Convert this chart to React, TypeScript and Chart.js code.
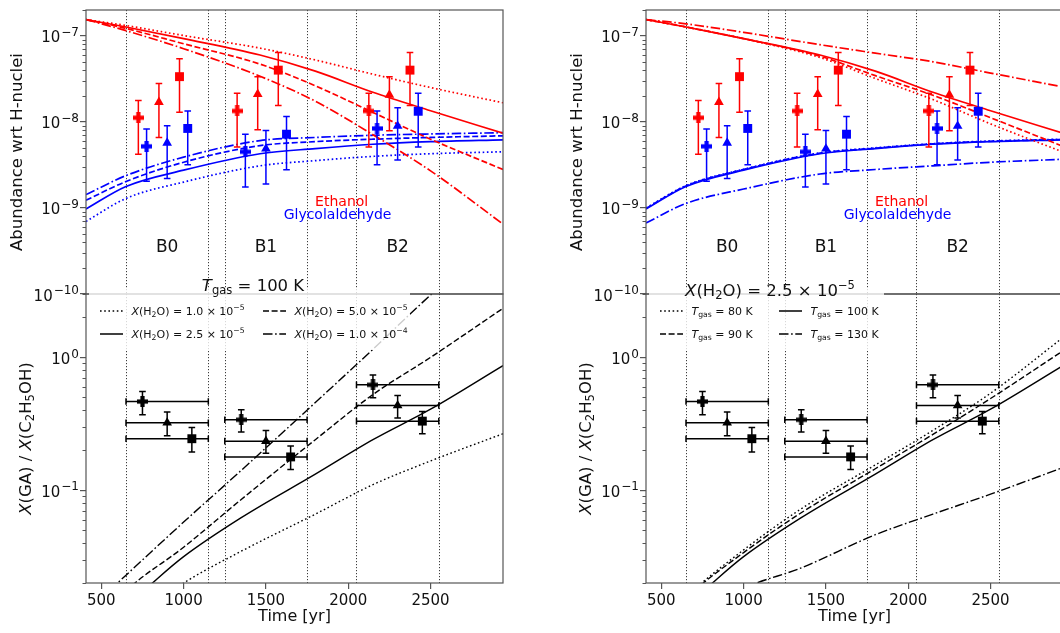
import React, { useEffect, useRef } from 'react';
import { Chart, registerables } from 'chart.js';

Chart.register(...registerables);

const FONT = '"DejaVu Sans", Verdana, sans-serif';

// ---------------- axes ----------------
const timeMin = 407;
const timeMax = 2940;
const timeTicks = [500, 1000, 1500, 2000, 2500];
const abundMin = 1e-10;
const abundMax = 2e-7;
const abundTicks = [1e-10, 1e-9, 1e-8, 1e-7];
const abundMinorTicks = [
  2e-10, 3e-10, 4e-10, 5e-10, 6e-10, 7e-10, 8e-10, 9e-10,
  2e-9, 3e-9, 4e-9, 5e-9, 6e-9, 7e-9, 8e-9, 9e-9,
  2e-8, 3e-8, 4e-8, 5e-8, 6e-8, 7e-8, 8e-8, 9e-8, 2e-7,
];
const ratioMin = 0.02;
const ratioMax = 3;
const ratioTicks = [0.1, 1];
const ratioMinorTicks = [0.02, 0.03, 0.04, 0.05, 0.06, 0.07, 0.08, 0.09, 0.2, 0.3, 0.4, 0.5, 0.6, 0.7, 0.8, 0.9, 2, 3];

const regionBounds = [650, 1150, 1250, 1750, 2050, 2550];
const regionNames = ['B0', 'B1', 'B2'];
const regionNameTimes = [900, 1500, 2300];
const regionNameLevel = 3.5e-10;

// ---------------- model curves (abundances) ----------------
const modelTimes = [407, 650, 1000, 1464, 1800, 2150, 2500, 2940];
// left column: T_gas = 100 K, varying X(H2O)
const etohH2O1e5 = [1.55e-7, 1.32e-7, 1.01e-7, 7.2e-8, 5.25e-8, 3.59e-8, 2.51e-8, 1.67e-8];
const etohH2O2p5e5 = [1.55e-7, 1.27e-7, 9.3e-8, 6.0e-8, 3.89e-8, 2.21e-8, 1.35e-8, 7.4e-9];
const etohH2O5e5 = [1.55e-7, 1.22e-7, 8.1e-8, 4.7e-8, 2.63e-8, 1.29e-8, 6.3e-9, 2.8e-9];
const etohH2O1e4 = [1.55e-7, 1.15e-7, 7.1e-8, 3.4e-8, 1.74e-8, 7.1e-9, 2.7e-9, 6.5e-10];
const gaH2O1e5 = [6.98e-10, 1.29e-9, 2.0e-9, 3.09e-9, 3.55e-9, 3.98e-9, 4.27e-9, 4.5e-9];
const gaH2O2p5e5 = [9.75e-10, 1.78e-9, 2.75e-9, 4.27e-9, 4.9e-9, 5.5e-9, 5.9e-9, 6.2e-9];
const gaH2O5e5 = [1.23e-9, 2.03e-9, 3.4e-9, 5.3e-9, 5.9e-9, 6.3e-9, 6.6e-9, 6.9e-9];
const gaH2O1e4 = [1.43e-9, 2.38e-9, 3.9e-9, 6.07e-9, 6.6e-9, 7.0e-9, 7.25e-9, 7.5e-9];
// right column: X(H2O) = 2.5e-5, varying T_gas
const etohT80 = [1.55e-7, 1.27e-7, 9.3e-8, 5.6e-8, 3.2e-8, 1.82e-8, 9.5e-9, 4.47e-9];
const etohT90 = [1.55e-7, 1.27e-7, 9.3e-8, 5.8e-8, 3.45e-8, 2.04e-8, 1.12e-8, 5.2e-9];
const etohT100 = [1.55e-7, 1.27e-7, 9.3e-8, 6.0e-8, 3.89e-8, 2.21e-8, 1.35e-8, 7.4e-9];
const etohT130 = [1.55e-7, 1.38e-7, 1.1e-7, 7.9e-8, 6.3e-8, 5.0e-8, 3.7e-8, 2.55e-8];
const gaT80 = [1.0e-9, 1.82e-9, 2.82e-9, 4.37e-9, 5.0e-9, 5.6e-9, 6.0e-9, 6.3e-9];
const gaT90 = [9.9e-10, 1.8e-9, 2.8e-9, 4.33e-9, 4.95e-9, 5.55e-9, 5.95e-9, 6.25e-9];
const gaT100 = [9.75e-10, 1.78e-9, 2.75e-9, 4.27e-9, 4.9e-9, 5.5e-9, 5.9e-9, 6.2e-9];
const gaT130 = [6.7e-10, 1.13e-9, 1.66e-9, 2.48e-9, 2.8e-9, 3.09e-9, 3.4e-9, 3.68e-9];

// ---------------- model curves (ratios) ----------------
const ratioTimes = [407, 650, 1000, 1350, 1800, 2150, 2500, 2940];
const ratioH2O1e5 = [0.00447, 0.01, 0.02, 0.0347, 0.066, 0.11, 0.166, 0.266];
const ratioH2O2p5e5 = [0.0093, 0.0138, 0.0316, 0.0621, 0.132, 0.24, 0.407, 0.867];
const ratioH2O5e5 = [0.0079, 0.0174, 0.0372, 0.0851, 0.24, 0.525, 1.0, 2.34];
const ratioH2O1e4 = [0.012, 0.0229, 0.0575, 0.141, 0.457, 1.15, 2.95, 8.9];
const ratioT80 = [0.0079, 0.0158, 0.0355, 0.0724, 0.155, 0.282, 0.537, 1.41];
const ratioT90 = [0.0076, 0.0155, 0.0339, 0.0676, 0.145, 0.263, 0.49, 1.12];
const ratioT100 = [0.0093, 0.0138, 0.0316, 0.0621, 0.132, 0.24, 0.407, 0.867];
const ratioT130 = [0.0063, 0.01, 0.0182, 0.026, 0.0462, 0.066, 0.0933, 0.148];

// ---------------- observations ----------------
const obsMarkers = ['plus', 'triangle', 'square', 'plus', 'triangle', 'square', 'plus', 'triangle', 'square'];
const ethTimes = [725, 850, 975, 1325, 1450, 1575, 2125, 2250, 2375];
const ethObs = [1.12e-8, 1.7e-8, 3.36e-8, 1.34e-8, 2.1e-8, 4.0e-8, 1.34e-8, 2.06e-8, 4.0e-8];
const ethObsLo = [4.2e-9, 6.6e-9, 1.3e-8, 5.1e-9, 8.1e-9, 1.55e-8, 5.1e-9, 7.9e-9, 1.55e-8];
const ethObsHi = [1.77e-8, 2.79e-8, 5.43e-8, 2.15e-8, 3.36e-8, 6.4e-8, 2.15e-8, 3.36e-8, 6.4e-8];
const gaTimes = [775, 900, 1025, 1375, 1500, 1625, 2175, 2300, 2425];
const gaObs = [5.2e-9, 5.7e-9, 8.4e-9, 4.5e-9, 4.87e-9, 7.2e-9, 8.4e-9, 8.97e-9, 1.33e-8];
const gaObsLo = [2.05e-9, 2.2e-9, 3.17e-9, 1.75e-9, 1.9e-9, 2.78e-9, 3.17e-9, 3.6e-9, 5.1e-9];
const gaObsHi = [8.3e-9, 9.05e-9, 1.34e-8, 7.2e-9, 7.95e-9, 1.16e-8, 1.34e-8, 1.46e-8, 2.15e-8];
const ratioObsTimes = [750, 900, 1050, 1350, 1500, 1650, 2150, 2300, 2450];
const ratioObs = [0.465, 0.322, 0.244, 0.339, 0.234, 0.178, 0.621, 0.434, 0.331];
const ratioObsLo = [0.37, 0.257, 0.194, 0.274, 0.19, 0.143, 0.496, 0.349, 0.266];
const ratioObsHi = [0.553, 0.387, 0.297, 0.403, 0.282, 0.215, 0.738, 0.516, 0.392];
const ratioObsStart = [650, 650, 650, 1250, 1250, 1250, 2050, 2050, 2050];
const ratioObsEnd = [1150, 1150, 1150, 1750, 1750, 1750, 2550, 2550, 2550];

// ---------------- styles ----------------
const RED = '#ff0000';
const BLUE = '#0000ff';
const BLACK = '#000000';
const SPINE = '#555555';
const SOLID: number[] = [];
const DOT = [1.6, 2.6];
const DASH = [6, 2.6];
const DASHDOT = [9.5, 2.6, 1.6, 2.6];

type Seg = { t: string; it?: boolean; sub?: boolean; sup?: boolean };

function segFont(s: Seg, size: number) {
  const fs = s.sub || s.sup ? size * 0.7 : size;
  return `${s.it ? 'italic ' : ''}${fs}px ${FONT}`;
}
function richWidth(ctx: CanvasRenderingContext2D, segs: Seg[], size: number) {
  let w = 0;
  for (const s of segs) {
    ctx.font = segFont(s, size);
    w += ctx.measureText(s.t).width;
  }
  return w;
}
function drawRich(ctx: CanvasRenderingContext2D, segs: Seg[], x: number, y: number, size: number, align: string, color: string) {
  const w = richWidth(ctx, segs, size);
  let cx = align === 'center' ? x - w / 2 : x;
  ctx.fillStyle = color;
  ctx.textAlign = 'left';
  ctx.textBaseline = 'alphabetic';
  for (const s of segs) {
    ctx.font = segFont(s, size);
    const dy = s.sub ? size * 0.2 : s.sup ? -size * 0.42 : 0;
    ctx.fillText(s.t, cx, y + dy);
    cx += ctx.measureText(s.t).width;
  }
}

// power-of-ten tick label: "10" plus a raised exponent, right-aligned at x
function drawPowLabel(ctx: CanvasRenderingContext2D, v: number, xRight: number, yTick: number) {
  const e = Math.round(Math.log10(v));
  const exp = (e < 0 ? '−' : '') + String(Math.abs(e));
  ctx.font = `15px ${FONT}`;
  const w1 = ctx.measureText('10').width;
  ctx.font = `12px ${FONT}`;
  const w2 = ctx.measureText(exp).width;
  const x0 = xRight - (w1 + 1 + w2);
  ctx.fillStyle = '#111';
  ctx.textAlign = 'left';
  ctx.textBaseline = 'alphabetic';
  ctx.font = `15px ${FONT}`;
  ctx.fillText('10', x0, yTick + 6.5);
  ctx.font = `12px ${FONT}`;
  ctx.fillText(exp, x0 + w1 + 1, yTick + 0.3);
}

const markerCache: Record<string, HTMLCanvasElement> = {};
function plusMarker(color: string) {
  if (markerCache[color]) return markerCache[color];
  const size = 11;
  const arm = 4.2;
  const c = document.createElement('canvas');
  c.width = size;
  c.height = size;
  const g = c.getContext('2d')!;
  g.fillStyle = color;
  const a = (size - arm) / 2;
  g.fillRect(0, a, size, arm);
  g.fillRect(a, 0, arm, size);
  markerCache[color] = c;
  return c;
}

function lineSeries(times: number[], vals: number[], color: string, dash: number[], width: number) {
  return {
    data: times.map((t, i) => ({ x: t, y: vals[i] })),
    borderColor: color,
    backgroundColor: color,
    borderWidth: width,
    borderDash: dash,
    borderCapStyle: 'butt',
    pointRadius: 0,
    fill: false,
    cubicInterpolationMode: 'monotone',
  };
}

function obsSeries(times: number[], vals: number[], lo: number[], hi: number[], color: string, xlo?: number[], xhi?: number[]) {
  return {
    data: times.map((t, i) => ({ x: t, y: vals[i] })),
    showLine: false,
    pointStyle: obsMarkers.map((m) => (m === 'plus' ? plusMarker(color) : m === 'triangle' ? 'triangle' : 'rect')),
    pointRadius: obsMarkers.map((m) => (m === 'plus' ? 5 : m === 'triangle' ? 5.6 : 6.3)),
    backgroundColor: color,
    borderColor: color,
    borderWidth: 0,
    errLo: lo,
    errHi: hi,
    xLo: xlo,
    xHi: xhi,
    errColor: color,
  };
}

type Entry = { dash: number[]; segs: Seg[]; dx: number; row: number };
type PanelCfg = {
  top: boolean;
  legendBox?: { dx: number; dy: number; w: number; h: number };
  legend?: Entry[];
  title?: { segs: Seg[]; dx: number; dy: number };
  yTitle?: Seg[];
};

function panelPlugin(cfg: PanelCfg) {
  return {
    id: 'panel',
    beforeDatasetsDraw(chart: any) {
      const { ctx, chartArea: ca } = chart;
      const x = chart.scales.x;
      ctx.save();
      ctx.strokeStyle = 'rgba(0,0,0,0.85)';
      ctx.lineWidth = 0.9;
      ctx.setLineDash([1.2, 1.8]);
      for (const b of regionBounds) {
        const px = Math.round(x.getPixelForValue(b)) + 0.5;
        ctx.beginPath();
        ctx.moveTo(px, ca.top);
        ctx.lineTo(px, ca.bottom);
        ctx.stroke();
      }
      ctx.restore();
    },
    beforeDatasetDraw(chart: any, args: any) {
      const ds = chart.data.datasets[args.index];
      if (!ds.errLo) return;
      const { ctx } = chart;
      const xs = chart.scales.x;
      const ys = chart.scales.y;
      const cap = 3.3;
      ctx.save();
      ctx.strokeStyle = ds.errColor;
      ctx.lineWidth = 1.5;
      ctx.setLineDash([]);
      ds.data.forEach((p: any, i: number) => {
        const px = xs.getPixelForValue(p.x);
        const py = ys.getPixelForValue(p.y);
        const yt = ys.getPixelForValue(ds.errHi[i]);
        const yb = ys.getPixelForValue(ds.errLo[i]);
        ctx.beginPath();
        ctx.moveTo(px, yt);
        ctx.lineTo(px, yb);
        ctx.moveTo(px - cap, yt);
        ctx.lineTo(px + cap, yt);
        ctx.moveTo(px - cap, yb);
        ctx.lineTo(px + cap, yb);
        if (ds.xLo) {
          const xl = xs.getPixelForValue(ds.xLo[i]);
          const xr = xs.getPixelForValue(ds.xHi[i]);
          ctx.moveTo(xl, py);
          ctx.lineTo(xr, py);
          ctx.moveTo(xl, py - cap);
          ctx.lineTo(xl, py + cap);
          ctx.moveTo(xr, py - cap);
          ctx.lineTo(xr, py + cap);
        }
        ctx.stroke();
      });
      ctx.restore();
    },
    afterDatasetsDraw(chart: any) {
      const { ctx, chartArea: ca } = chart;
      const xs = chart.scales.x;
      const ys = chart.scales.y;
      ctx.save();
      // frame
      ctx.setLineDash([]);
      ctx.strokeStyle = SPINE;
      ctx.lineWidth = 1.2;
      ctx.strokeRect(ca.left, ca.top, ca.right - ca.left, ca.bottom - ca.top);
      // minor ticks
      ctx.lineWidth = 1;
      const minors = cfg.top ? abundMinorTicks : ratioMinorTicks;
      for (const v of minors) {
        const py = Math.round(ys.getPixelForValue(v)) + 0.5;
        ctx.beginPath();
        ctx.moveTo(ca.left - 3.5, py);
        ctx.lineTo(ca.left, py);
        ctx.stroke();
      }
      // major tick labels (powers of ten)
      for (const v of cfg.top ? abundTicks : ratioTicks) {
        drawPowLabel(ctx, v, ca.left - 7, ys.getPixelForValue(v));
      }
      if (cfg.top) {
        // region labels
        ctx.fillStyle = '#111';
        ctx.font = `17px ${FONT}`;
        ctx.textAlign = 'center';
        ctx.textBaseline = 'middle';
        regionNames.forEach((n, i) => {
          ctx.fillText(n, xs.getPixelForValue(regionNameTimes[i]), ys.getPixelForValue(regionNameLevel));
        });
        ctx.font = `14px ${FONT}`;
        ctx.fillStyle = RED;
        ctx.fillText('Ethanol', xs.getPixelForValue(1960), ys.getPixelForValue(1.15e-9));
        ctx.fillStyle = BLUE;
        ctx.fillText('Glycolaldehyde', xs.getPixelForValue(1935), ys.getPixelForValue(8.1e-10));
      }
      if (cfg.legendBox) {
        const b = cfg.legendBox;
        ctx.fillStyle = 'rgba(255,255,255,0.8)';
        ctx.beginPath();
        ctx.roundRect(ca.left + b.dx, ca.top + b.dy, b.w, b.h, 3);
        ctx.fill();
      }
      if (cfg.legend) {
        for (const e of cfg.legend) {
          const hx = ca.left + e.dx;
          const ry = ca.top + 17 + e.row * 23;
          ctx.strokeStyle = BLACK;
          ctx.lineWidth = 1.5;
          ctx.setLineDash(e.dash);
          ctx.beginPath();
          ctx.moveTo(hx, ry);
          ctx.lineTo(hx + 23, ry);
          ctx.stroke();
          ctx.setLineDash([]);
          drawRich(ctx, e.segs, hx + 31.5, ry + 4, 11, 'left', '#111');
        }
      }
      if (cfg.title) {
        drawRich(ctx, cfg.title.segs, ca.left + cfg.title.dx, ca.top + cfg.title.dy, 16.5, 'center', '#111');
      }
      if (cfg.yTitle) {
        ctx.translate(25, (ca.top + ca.bottom) / 2);
        ctx.rotate(-Math.PI / 2);
        drawRich(ctx, cfg.yTitle, 0, 6, 16.5, 'center', '#111');
      }
      ctx.restore();
    },
  };
}

function makeChart(canvas: HTMLCanvasElement, datasets: any[], cfg: PanelCfg) {
  const isTop = cfg.top;
  const gridOpts = { drawOnChartArea: false, drawTicks: true, tickLength: 6, color: SPINE, lineWidth: 1.2 };
  return new Chart(canvas, {
    type: 'line',
    data: { datasets },
    options: {
      responsive: false,
      maintainAspectRatio: false,
      animation: false,
      devicePixelRatio: 1,
      events: [],
      layout: { padding: isTop ? { top: 4, right: 27, bottom: 16, left: 0 } : { top: 34, right: 27, bottom: 0, left: 0 } },
      plugins: { legend: { display: false }, tooltip: { enabled: false } },
      scales: {
        x: {
          type: 'linear',
          min: timeMin,
          max: timeMax,
          display: !isTop,
          afterBuildTicks: (s: any) => {
            s.ticks = timeTicks.map((v) => ({ value: v }));
          },
          afterFit: (s: any) => {
            s.height = isTop ? 0 : 50;
          },
          ticks: { font: { family: FONT, size: 15 }, color: '#111', padding: 3, maxRotation: 0, autoSkip: false, callback: (v: any) => String(v) },
          grid: gridOpts,
          border: { display: false },
          title: { display: true, text: 'Time [yr]', font: { family: FONT, size: 16 }, color: '#111', padding: { top: 0, bottom: 6.4 } },
        },
        y: {
          type: 'logarithmic',
          min: isTop ? abundMin : ratioMin,
          max: isTop ? abundMax : ratioMax,
          afterBuildTicks: (s: any) => {
            s.ticks = (isTop ? abundTicks : ratioTicks).map((v) => ({ value: v }));
          },
          afterFit: (s: any) => {
            s.width = 86;
          },
          ticks: { font: { family: FONT, size: 15 }, color: '#111', padding: 1, autoSkip: false, callback: () => '' },
          grid: gridOpts,
          border: { display: false },
          title: isTop
            ? { display: true, text: 'Abundance wrt H-nuclei', font: { family: FONT, size: 16.5 }, color: '#111', padding: { top: 8, bottom: 0 } }
            : { display: false },
        },
      },
    } as any,
    plugins: [panelPlugin(cfg) as any],
  });
}

const xh2o = (mant: string, exp: string): Seg[] => [
  { t: 'X', it: true },
  { t: '(H' },
  { t: '2', sub: true },
  { t: `O) = ${mant} × 10` },
  { t: exp, sup: true },
];
const tgas = (val: string): Seg[] => [{ t: 'T', it: true }, { t: 'gas', sub: true }, { t: ` = ${val} K` }];
const ratioTitle: Seg[] = [
  { t: 'X', it: true },
  { t: '(GA) / ' },
  { t: 'X', it: true },
  { t: '(C' },
  { t: '2', sub: true },
  { t: 'H' },
  { t: '5', sub: true },
  { t: 'OH)' },
];

function buildTopLeft(c: HTMLCanvasElement) {
  const ds = [
    obsSeries(ethTimes, ethObs, ethObsLo, ethObsHi, RED),
    obsSeries(gaTimes, gaObs, gaObsLo, gaObsHi, BLUE),
    lineSeries(modelTimes, etohH2O1e5, RED, DOT, 1.7),
    lineSeries(modelTimes, etohH2O2p5e5, RED, SOLID, 1.7),
    lineSeries(modelTimes, etohH2O5e5, RED, DASH, 1.7),
    lineSeries(modelTimes, etohH2O1e4, RED, DASHDOT, 1.7),
    lineSeries(modelTimes, gaH2O1e5, BLUE, DOT, 1.7),
    lineSeries(modelTimes, gaH2O2p5e5, BLUE, SOLID, 1.7),
    lineSeries(modelTimes, gaH2O5e5, BLUE, DASH, 1.7),
    lineSeries(modelTimes, gaH2O1e4, BLUE, DASHDOT, 1.7),
  ];
  return makeChart(c, ds, { top: true });
}

function buildTopRight(c: HTMLCanvasElement) {
  const ds = [
    obsSeries(ethTimes, ethObs, ethObsLo, ethObsHi, RED),
    obsSeries(gaTimes, gaObs, gaObsLo, gaObsHi, BLUE),
    lineSeries(modelTimes, etohT80, RED, DOT, 1.7),
    lineSeries(modelTimes, etohT90, RED, DASH, 1.7),
    lineSeries(modelTimes, etohT100, RED, SOLID, 1.7),
    lineSeries(modelTimes, etohT130, RED, DASHDOT, 1.7),
    lineSeries(modelTimes, gaT80, BLUE, DOT, 1.7),
    lineSeries(modelTimes, gaT90, BLUE, DASH, 1.7),
    lineSeries(modelTimes, gaT100, BLUE, SOLID, 1.7),
    lineSeries(modelTimes, gaT130, BLUE, DASHDOT, 1.7),
  ];
  return makeChart(c, ds, { top: true });
}

function buildBottomLeft(c: HTMLCanvasElement) {
  const ds = [
    obsSeries(ratioObsTimes, ratioObs, ratioObsLo, ratioObsHi, BLACK, ratioObsStart, ratioObsEnd),
    lineSeries(ratioTimes, ratioH2O1e5, BLACK, DOT, 1.4),
    lineSeries(ratioTimes, ratioH2O2p5e5, BLACK, SOLID, 1.4),
    lineSeries(ratioTimes, ratioH2O5e5, BLACK, DASH, 1.4),
    lineSeries(ratioTimes, ratioH2O1e4, BLACK, DASHDOT, 1.4),
  ];
  return makeChart(c, ds, {
    top: false,
    legendBox: { dx: 3, dy: -5, w: 321, h: 61 },
    legend: [
      { dash: DOT, segs: xh2o('1.0', '−5'), dx: 14, row: 0 },
      { dash: SOLID, segs: xh2o('2.5', '−5'), dx: 14, row: 1 },
      { dash: DASH, segs: xh2o('5.0', '−5'), dx: 177, row: 0 },
      { dash: DASHDOT, segs: xh2o('1.0', '−4'), dx: 177, row: 1 },
    ],
    title: { segs: tgas('100'), dx: 167, dy: -3.5 },
    yTitle: ratioTitle,
  });
}

function buildBottomRight(c: HTMLCanvasElement) {
  const ds = [
    obsSeries(ratioObsTimes, ratioObs, ratioObsLo, ratioObsHi, BLACK, ratioObsStart, ratioObsEnd),
    lineSeries(ratioTimes, ratioT80, BLACK, DOT, 1.4),
    lineSeries(ratioTimes, ratioT90, BLACK, DASH, 1.4),
    lineSeries(ratioTimes, ratioT100, BLACK, SOLID, 1.4),
    lineSeries(ratioTimes, ratioT130, BLACK, DASHDOT, 1.4),
  ];
  return makeChart(c, ds, {
    top: false,
    legendBox: { dx: 3, dy: -5, w: 235, h: 61 },
    legend: [
      { dash: DOT, segs: tgas('80'), dx: 14, row: 0 },
      { dash: DASH, segs: tgas('90'), dx: 14, row: 1 },
      { dash: SOLID, segs: tgas('100'), dx: 133, row: 0 },
      { dash: DASHDOT, segs: tgas('130'), dx: 133, row: 1 },
    ],
    title: { segs: xh2o('2.5', '−5'), dx: 124, dy: 1.5 },
    yTitle: ratioTitle,
  });
}

function ChartCanvas(props: { left: number; top: number; w: number; h: number; build: (c: HTMLCanvasElement) => Chart }) {
  const ref = useRef<HTMLCanvasElement>(null);
  useEffect(() => {
    const chart = props.build(ref.current!);
    return () => chart.destroy();
  }, []);
  return (
    <canvas
      ref={ref}
      width={props.w}
      height={props.h}
      style={{ position: 'absolute', left: props.left, top: props.top, width: props.w, height: props.h }}
    />
  );
}

export default function App() {
  return (
    <div style={{ position: 'fixed', left: 0, top: 0, width: 1060, height: 633, overflow: 'hidden', background: '#ffffff' }}>
      <ChartCanvas left={0} top={0} w={530} h={310} build={buildTopLeft} />
      <ChartCanvas left={560} top={0} w={530} h={310} build={buildTopRight} />
      <ChartCanvas left={0} top={260} w={530} h={373} build={buildBottomLeft} />
      <ChartCanvas left={560} top={260} w={530} h={373} build={buildBottomRight} />
    </div>
  );
}
